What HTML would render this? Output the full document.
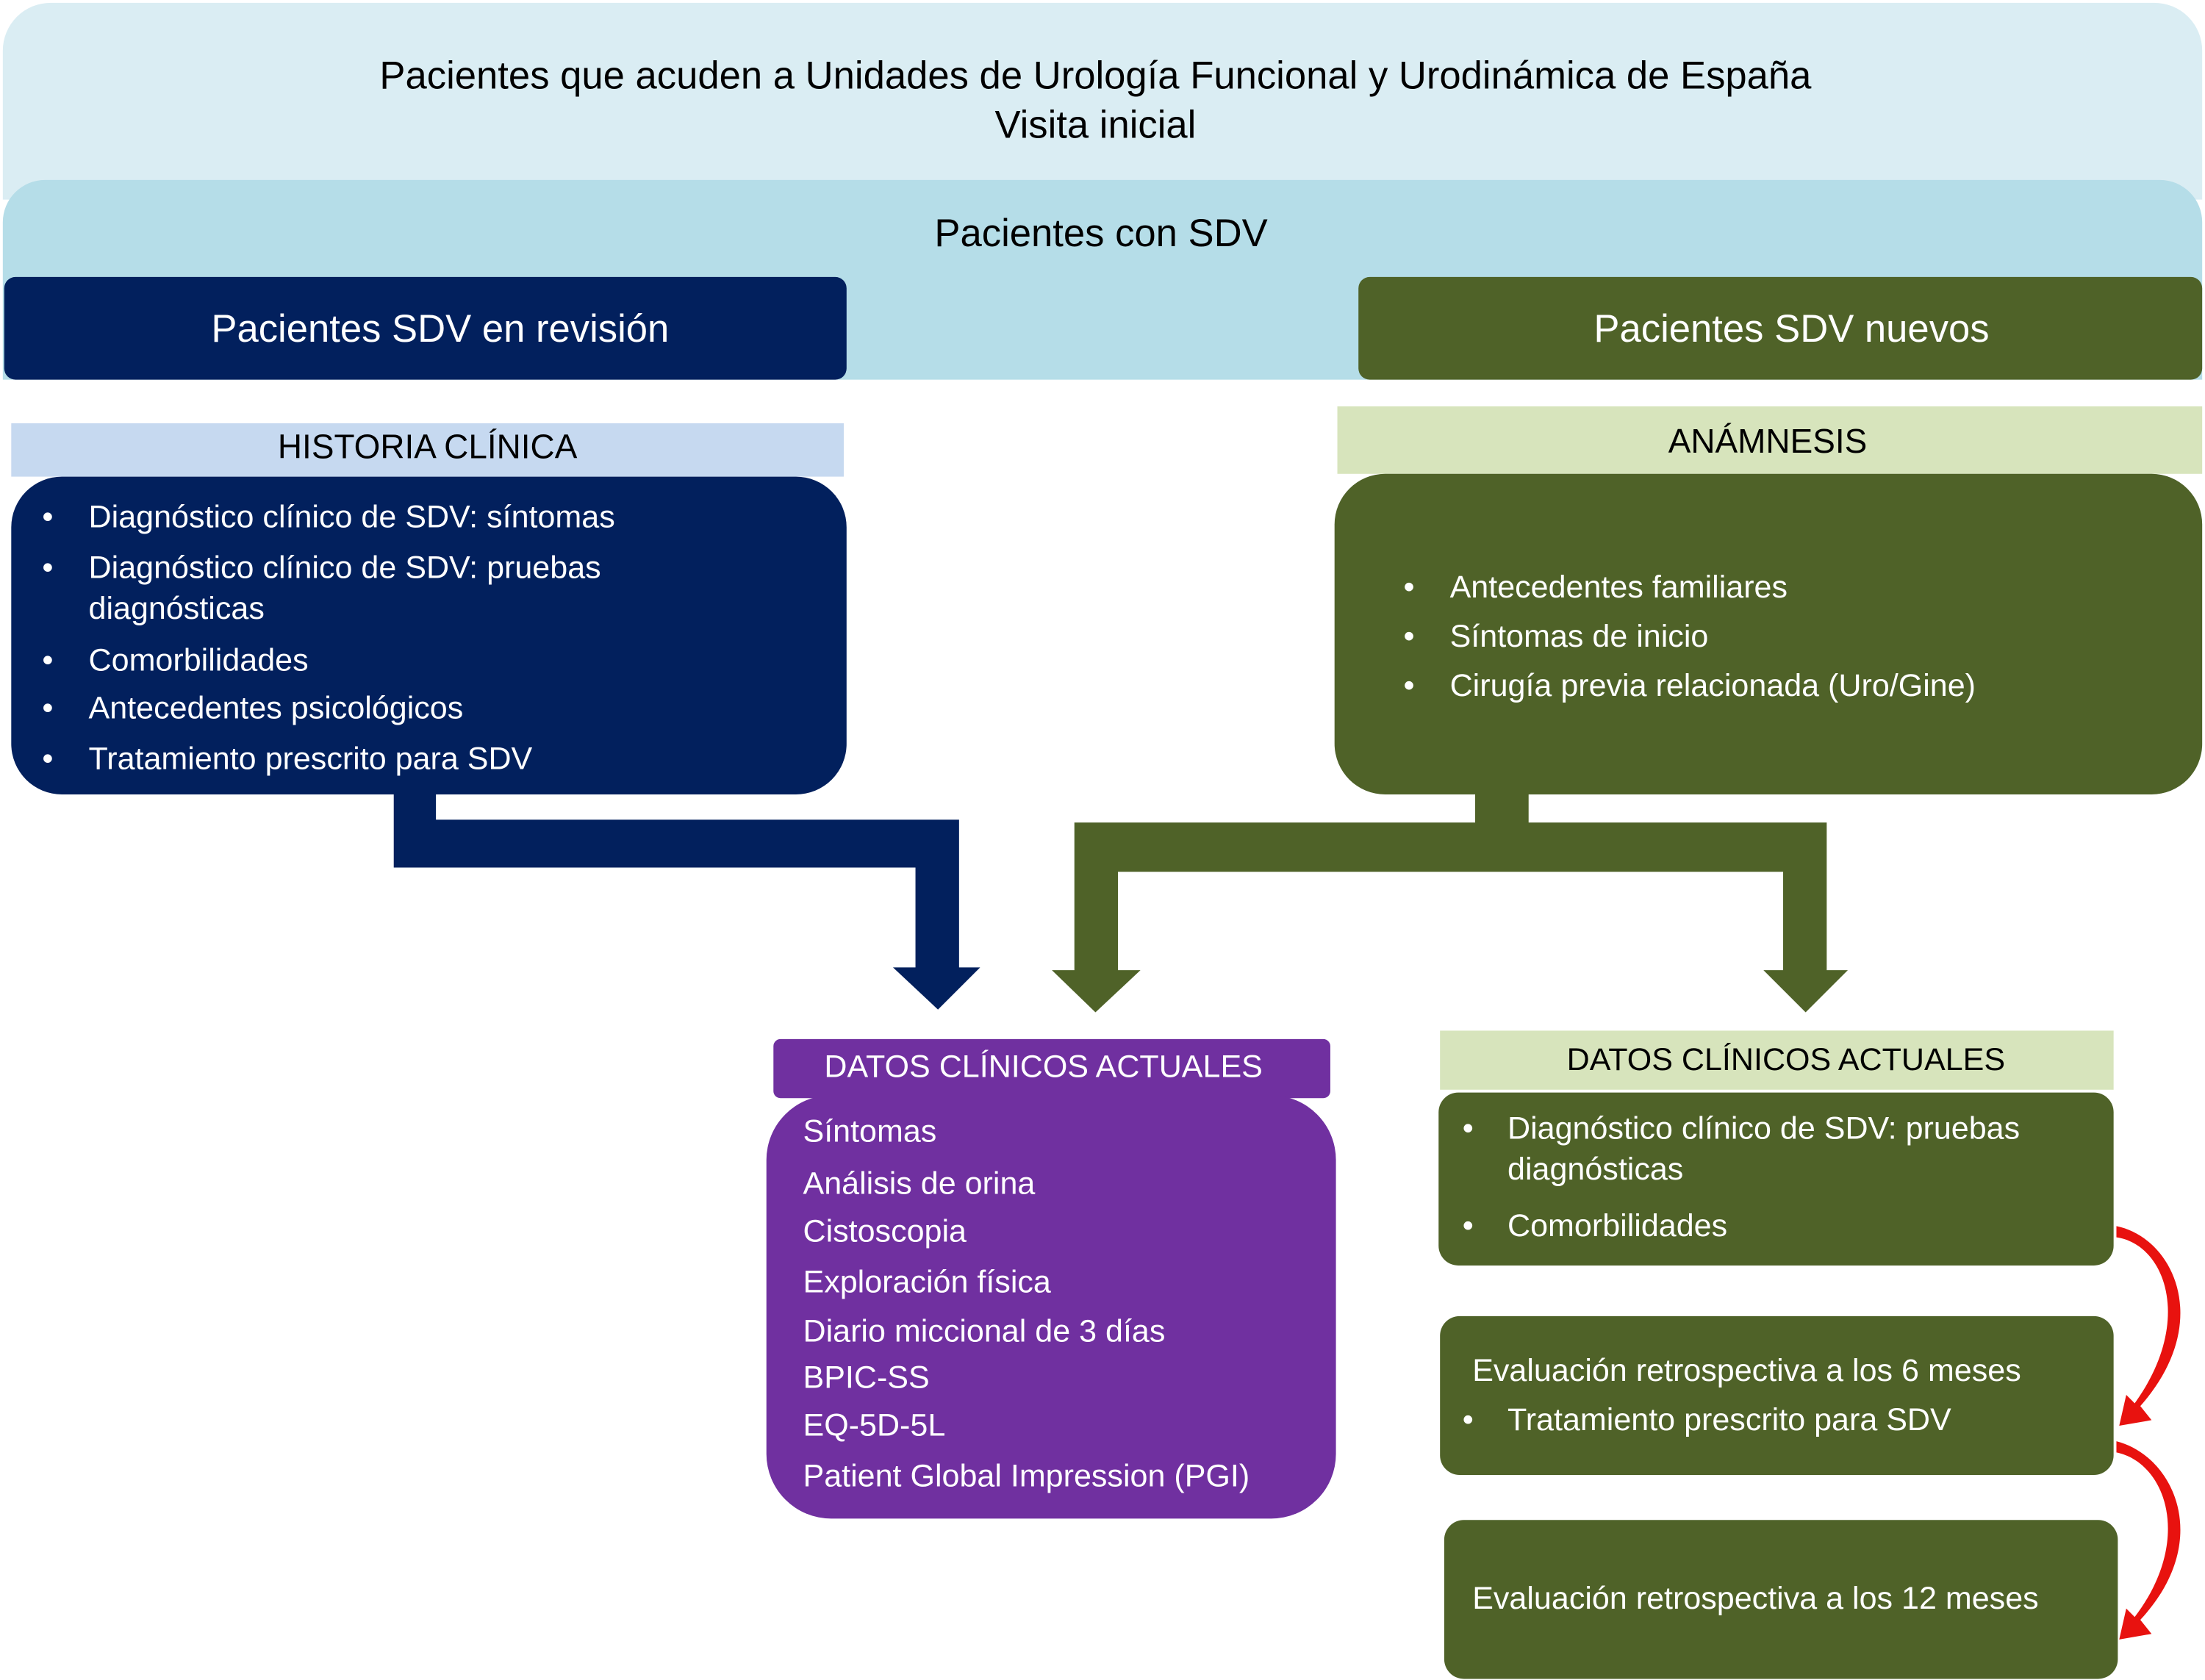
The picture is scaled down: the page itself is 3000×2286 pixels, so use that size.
<!DOCTYPE html>
<html><head><meta charset="utf-8"><style>
html,body{margin:0;padding:0;background:#fff;}
#root{width:3000px;height:2286px;overflow:hidden;position:relative;}
#s{position:absolute;left:0;top:0;width:1568px;height:1195px;transform:scale(1.91327);transform-origin:0 0;font-family:"Liberation Sans",sans-serif;}
.a{position:absolute;box-sizing:border-box;}
.t{position:absolute;white-space:nowrap;}
.w{color:#fff;}
.c{text-align:center;}
</style></head><body><div id="root"><div id="s">
<div class="a" style="left:2px;top:2px;width:1564px;height:140px;background:#daedf3;border-radius:34px 34px 0 0;"></div>
<div class="t c" style="left:0;width:1558px;top:38px;font-size:27.5px;color:#000;">Pacientes que acuden a Unidades de Urología Funcional y Urodinámica de España</div>
<div class="t c" style="left:0;width:1558px;top:73px;font-size:27.5px;color:#000;">Visita inicial</div>
<div class="a" style="left:2px;top:128px;width:1564px;height:142px;background:#b5dde8;border-radius:30px 30px 0 0;"></div>
<div class="t c" style="left:0;width:1566px;top:150px;font-size:27.5px;color:#000;">Pacientes con SDV</div>
<div class="a" style="left:3px;top:197px;width:599px;height:73px;background:#02205d;border-radius:8px;"></div>
<div class="t c w" style="left:3px;width:620px;top:218px;font-size:27.5px;">Pacientes SDV en revisión</div>
<div class="a" style="left:966px;top:197px;width:600px;height:73px;background:#4f6228;border-radius:8px;"></div>
<div class="t c w" style="left:966px;width:616px;top:218px;font-size:27.5px;">Pacientes SDV nuevos</div>

<div class="a" style="left:8px;top:301px;width:592px;height:38px;background:#c6d9f0;"></div>
<div class="t c" style="left:8px;width:592px;top:305px;font-size:24px;">HISTORIA CLÍNICA</div>
<div class="a" style="left:8px;top:339px;width:594px;height:226px;background:#02205d;border-radius:36px;"></div>
<div class="w" style="position:absolute;left:30px;top:353px;font-size:22.5px;line-height:29px;">
<div style="position:absolute;top:0;left:0;">•</div><div style="position:absolute;top:0;left:33px;white-space:nowrap">Diagnóstico clínico de SDV: síntomas</div>
<div style="position:absolute;top:36px;left:0;">•</div><div style="position:absolute;top:36px;left:33px;white-space:nowrap">Diagnóstico clínico de SDV: pruebas<br>diagnósticas</div>
<div style="position:absolute;top:102px;left:0;">•</div><div style="position:absolute;top:102px;left:33px;white-space:nowrap">Comorbilidades</div>
<div style="position:absolute;top:136px;left:0;">•</div><div style="position:absolute;top:136px;left:33px;white-space:nowrap">Antecedentes psicológicos</div>
<div style="position:absolute;top:172px;left:0;">•</div><div style="position:absolute;top:172px;left:33px;white-space:nowrap">Tratamiento prescrito para SDV</div>
</div>

<div class="a" style="left:951px;top:289px;width:615px;height:48px;background:#d7e4bc;"></div>
<div class="t c" style="left:951px;width:612px;top:301px;font-size:24px;">ANÁMNESIS</div>
<div class="a" style="left:949px;top:337px;width:617px;height:228px;background:#4f6228;border-radius:36px;"></div>
<div class="w" style="position:absolute;left:998px;top:403px;font-size:22.5px;line-height:29px;">
<div style="position:absolute;top:0;left:0;">•</div><div style="position:absolute;top:0;left:33px;white-space:nowrap">Antecedentes familiares</div>
<div style="position:absolute;top:35px;left:0;">•</div><div style="position:absolute;top:35px;left:33px;white-space:nowrap">Síntomas de inicio</div>
<div style="position:absolute;top:70px;left:0;">•</div><div style="position:absolute;top:70px;left:33px;white-space:nowrap">Cirugía previa relacionada (Uro/Gine)</div>
</div>

<svg class="a" style="left:0;top:0;" width="1568" height="1195">
<path d="M280 565 H310 V583 H682 V688 H697 L667 718 L635 688 H651 V617 H280 Z" fill="#02205d"/>
<path d="M1049 565 H1087 V585 H1299 V690 H1314 L1284 720 L1254 690 H1268 V620 H795 V690 H811 L779 720 L748 690 H764 V585 H1049 Z" fill="#4f6228"/>
<path d="M1505 872 C1545 880 1575 940 1522 1000 L1530 1010 L1507 1014 L1512 992 L1518 998 C1560 940 1540 885 1505 880 Z" fill="#e8120f"/>
<path d="M1505 1025 C1545 1035 1575 1095 1522 1152 L1530 1162 L1507 1166 L1512 1144 L1518 1150 C1560 1095 1540 1040 1505 1033 Z" fill="#e8120f"/>
</svg>

<div class="a" style="left:550px;top:739px;width:396px;height:42px;background:#7030a0;border-radius:5px;"></div>
<div class="t c w" style="left:550px;width:384px;top:746px;font-size:22.5px;">DATOS CLÍNICOS ACTUALES</div>
<div class="a" style="left:545px;top:779px;width:405px;height:301px;background:#7030a0;border-radius:46px;"></div>
<div class="w" style="position:absolute;left:571px;top:0;font-size:22.5px;">
<div class="t" style="top:792px;">Síntomas</div>
<div class="t" style="top:829px;">Análisis de orina</div>
<div class="t" style="top:863px;">Cistoscopia</div>
<div class="t" style="top:899px;">Exploración física</div>
<div class="t" style="top:934px;">Diario miccional de 3 días</div>
<div class="t" style="top:967px;">BPIC-SS</div>
<div class="t" style="top:1001px;">EQ-5D-5L</div>
<div class="t" style="top:1037px;">Patient Global Impression (PGI)</div>
</div>

<div class="a" style="left:1024px;top:733px;width:479px;height:42px;background:#d7e4bc;"></div>
<div class="t c" style="left:1024px;width:492px;top:741px;font-size:22.5px;">DATOS CLÍNICOS ACTUALES</div>
<div class="a" style="left:1023px;top:777px;width:480px;height:123px;background:#4f6228;border-radius:14px;"></div>
<div class="w" style="position:absolute;left:1040px;top:788px;font-size:22.5px;line-height:29px;">
<div style="position:absolute;top:0;left:0;">•</div><div style="position:absolute;top:0;left:32px;white-space:nowrap">Diagnóstico clínico de SDV: pruebas<br>diagnósticas</div>
<div style="position:absolute;top:69px;left:0;">•</div><div style="position:absolute;top:69px;left:32px;white-space:nowrap">Comorbilidades</div>
</div>
<div class="a" style="left:1024px;top:936px;width:479px;height:113px;background:#4f6228;border-radius:14px;"></div>
<div class="w" style="position:absolute;left:1040px;top:0;font-size:22.5px;">
<div class="t" style="top:962px;left:7px;">Evaluación retrospectiva a los 6 meses</div>
<div class="t" style="top:997px;left:0;">•</div><div class="t" style="top:997px;left:32px;">Tratamiento prescrito para SDV</div>
</div>
<div class="a" style="left:1027px;top:1081px;width:479px;height:113px;background:#4f6228;border-radius:14px;"></div>
<div class="t w" style="left:1047px;top:1124px;font-size:22.5px;">Evaluación retrospectiva a los 12 meses</div>
</div></div></body></html>
